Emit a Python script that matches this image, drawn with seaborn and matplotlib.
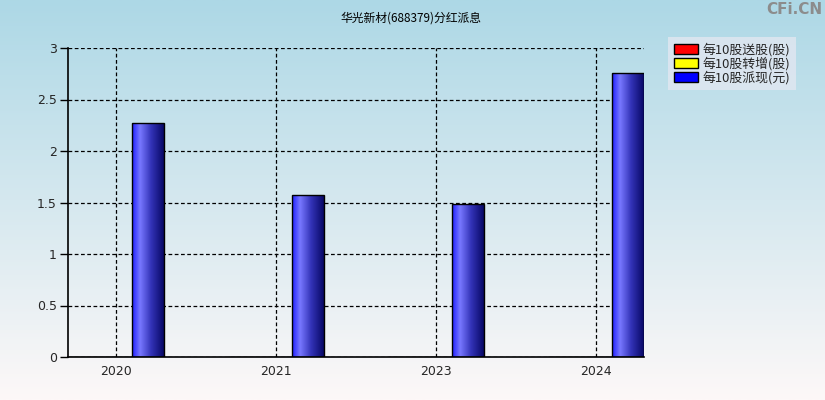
import numpy as np
import pandas as pd
import matplotlib
matplotlib.use("Agg")
import matplotlib.pyplot as plt
import seaborn as sns
from matplotlib.patches import Patch
from matplotlib.colors import LinearSegmentedColormap

# ---- data ----
years = ["2020", "2021", "2023", "2024"]
series_names = ["每10股送股(股)", "每10股转增(股)", "每10股派现(元)"]
song_gu = [0, 0, 0, 0]
zhuan_zeng = [0, 0, 0, 0]
pai_xian = [2.27, 1.57, 1.49, 2.76]
y_ticks = [0, 0.5, 1, 1.5, 2, 2.5, 3]
y_tick_labels = ["0", "0.5", "1", "1.5", "2", "2.5", "3"]
title = "华光新材(688379)分红派息"
series_colors = ["#ff0000", "#ffff00", "#0000ff"]

df = pd.DataFrame({
    "year": years * 3,
    "series": [series_names[0]] * 4 + [series_names[1]] * 4 + [series_names[2]] * 4,
    "value": song_gu + zhuan_zeng + pai_xian,
})

sns.set_theme(style="white")
plt.rcParams['font.family'] = ['Noto Sans CJK SC', 'DejaVu Sans']

W, H = 825, 400
fig = plt.figure(figsize=(W / 100, H / 100), dpi=100)

# background gradient
bg = fig.add_axes([0, 0, 1, 1], zorder=-10)
top = np.array([173, 216, 230]) / 255
bot = np.array([253, 248, 248]) / 255
t = np.linspace(0, 1, 256)[:, None]
grad = top[None, :] * (1 - t) + bot[None, :] * t
bg.imshow(grad[:, None, :], aspect="auto", extent=[0, 1, 0, 1])
bg.set_axis_off()

ax = fig.add_axes([68 / W, 1 - 357 / H, (644 - 68) / W, (357 - 48) / H])
ax.set_facecolor("none")

sns.barplot(data=df, x="year", y="value", hue="series", order=years,
            hue_order=series_names, palette=series_colors, width=0.6,
            edgecolor="black", linewidth=1.0, ax=ax, legend=False, zorder=3)

ax.set_xlim(-0.3, 3.3)
ax.set_ylim(0, 3)
ax.set_yticks(y_ticks)
ax.set_yticklabels(y_tick_labels, fontsize=9, family="DejaVu Sans")
ax.set_xticks(range(len(years)))
ax.set_xticklabels(years, fontsize=9, family="DejaVu Sans")
ax.set_xlabel("")
ax.set_ylabel("")
ax.tick_params(axis="y", length=6, width=1, color="black", pad=2, left=True)
ax.tick_params(axis="x", length=0, pad=6)
ax.grid(True, color="black", linestyle=(0, (3, 2)), linewidth=0.9, zorder=1)
ax.set_axisbelow(True)
for s in ["top", "right"]:
    ax.spines[s].set_visible(False)
for s in ["left", "bottom"]:
    ax.spines[s].set_color("black")
    ax.spines[s].set_linewidth(1.2)
    ax.spines[s].set_zorder(5)

# gradient fill for bars
cmap = LinearSegmentedColormap.from_list("bluebar", [
    (0.0, (0.12, 0.12, 1.0)),
    (0.25, (0.47, 0.47, 1.0)),
    (0.6, (0.2, 0.2, 0.72)),
    (1.0, (0.03, 0.03, 0.4)),
])
gx = np.linspace(0, 1, 128)[None, :]
for p in ax.patches:
    h = p.get_height()
    if h > 0:
        x0 = p.get_x()
        w = p.get_width()
        im = ax.imshow(gx, cmap=cmap, aspect="auto", extent=[x0, x0 + w, 0, h],
                       zorder=3.5, interpolation="bilinear")
        im.set_clip_path(p)
        p.set_facecolor("none")
        p.set_zorder(4)
ax.set_xlim(-0.3, 3.3)
ax.set_ylim(0, 3)

fig.text(411 / W, 1 - 18 / H, title, ha="center", va="center", fontsize=8.5, color="black")
fig.text(822 / W, 1 - 10 / H, "CFi.CN", ha="right", va="center", fontsize=11,
         fontweight="bold", color="#8c8c8c", family="DejaVu Sans")

handles = [Patch(facecolor=c, edgecolor="black", linewidth=1) for c in series_colors]
leg = fig.legend(handles, series_names, loc="upper left",
                 bbox_to_anchor=(668 / W, 1 - 37 / H), frameon=True, fontsize=9.3,
                 handlelength=1.85, handleheight=0.8, handletextpad=0.35,
                 labelspacing=0.02, borderpad=0.45, borderaxespad=0, fancybox=False)
leg.get_frame().set_facecolor("#e2e7f1")
leg.get_frame().set_edgecolor("none")

fig.savefig("out.png", dpi=100)
